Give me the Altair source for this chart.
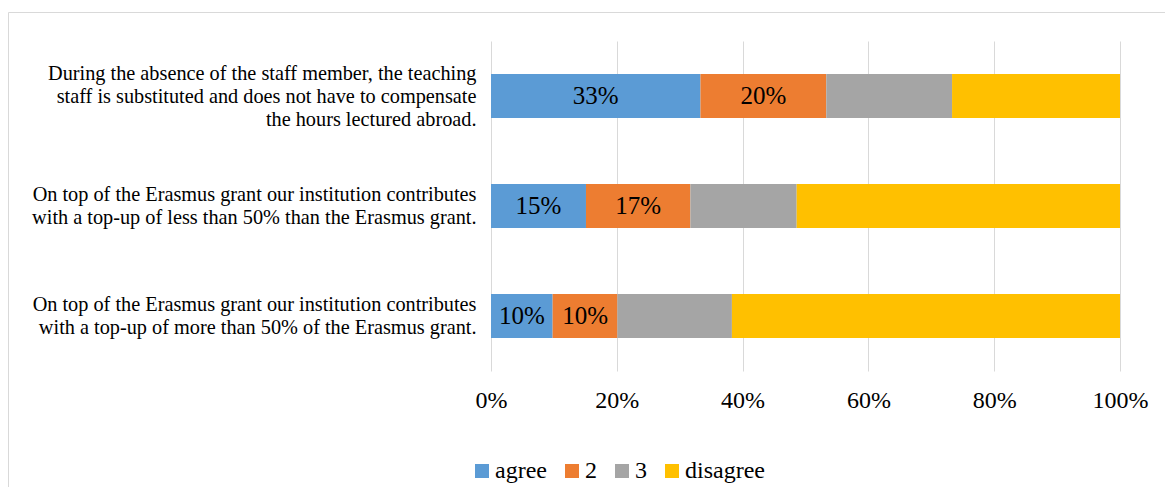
import altair as alt
import pandas as pd

questions = [
    "During the absence of the staff member, the teaching|staff is substituted and does not have to compensate|the hours lectured abroad.",
    "On top of the Erasmus grant our institution contributes|with a top-up of less than 50% than the Erasmus grant.",
    "On top of the Erasmus grant our institution contributes|with a top-up of more than 50% of the Erasmus grant.",
]
categories = ["agree", "2", "3", "disagree"]
agree = [33.3, 15.1, 9.8]
two = [20.0, 16.6, 10.3]
three = [20.0, 16.9, 18.2]
disagree = [26.7, 51.4, 61.7]
labeled_categories = ["agree", "2"]
colors = ["#5B9BD5", "#ED7D31", "#A5A5A5", "#FFC000"]
tick_values = [0, 20, 40, 60, 80, 100]

rows = []
for qi, q in enumerate(questions):
    for ci, (cat, series) in enumerate(zip(categories, [agree, two, three, disagree])):
        rows.append({"question": q, "category": cat, "order": ci, "value": series[qi]})
df = pd.DataFrame(rows)

FONT = "Liberation Serif"
LINE_H = 23

base = alt.Chart(df).transform_stack(
    stack="value", groupby=["question"], sort=[alt.SortField("order")], as_=["x0", "x1"]
)

y_enc = alt.Y(
    "question:N",
    sort=questions,
    scale=alt.Scale(paddingInner=0.6, paddingOuter=0.3),
    axis=alt.Axis(
        title=None, ticks=False, domain=False, grid=False,
        labelExpr="split(datum.label, '|')",
        labelFont=FONT, labelFontSize=20.3, labelLineHeight=LINE_H,
        labelColor="#000000", labelPadding=15, labelLimit=600,
        labelOffset={
            "condition": {"test": "length(split(datum.value, '|')) == 3", "value": -LINE_H + 1},
            "value": -LINE_H / 2 + 0.5,
        },
    ),
)

bars = base.mark_bar().encode(
    x=alt.X(
        "x0:Q",
        scale=alt.Scale(domain=[0, 100], nice=False, zero=True),
        axis=alt.Axis(
            title=None, values=tick_values, ticks=False, domain=False,
            grid=True, gridColor="#D9D9D9", gridWidth=1,
            labelExpr="datum.value + '%'",
            labelFont=FONT, labelFontSize=24, labelColor="#000000",
            labelPadding=17, labelFlush=False,
        ),
    ),
    x2="x1:Q",
    y=y_enc,
    color=alt.Color(
        "category:N",
        scale=alt.Scale(domain=categories, range=colors),
        sort=categories,
        legend=alt.Legend(
            title=None, orient="none", direction="horizontal",
            legendX=-21, legendY=418,
            symbolType="square", symbolSize=196, symbolStrokeWidth=0,
            labelFont=FONT, labelFontSize=24, labelColor="#000000",
            labelOffset=1, columnPadding=13, padding=0,
        ),
    ),
)

texts = base.transform_filter(
    alt.FieldOneOfPredicate(field="category", oneOf=labeled_categories)
).transform_calculate(
    mid="(datum.x0 + datum.x1) / 2",
    label="round(datum.value) + '%'",
).mark_text(font=FONT, fontSize=25, color="#000000", align="center", baseline="middle").encode(
    x="mid:Q",
    y=alt.Y("question:N", sort=questions),
    text="label:N",
)

frame_df = pd.DataFrame({"k": [0]})
left_border = alt.Chart(frame_df).mark_rule(color="#D9D9D9", strokeWidth=1).encode(
    x=alt.value(-482.5), y=alt.value(-28.5), y2=alt.value(600)
)
top_border = alt.Chart(frame_df).mark_rule(color="#D9D9D9", strokeWidth=1).encode(
    x=alt.value(-482.5), x2=alt.value(800), y=alt.value(-28.5)
)

chart = alt.layer(bars, texts, left_border, top_border).properties(
    width=629,
    height=330,
    autosize=alt.AutoSizeParams(type="none"),
    padding={"left": 483, "top": 33, "right": 45, "bottom": 116},
).configure_view(stroke=None)

chart.save("out.html", embed_options={"renderer": "svg", "actions": False})
